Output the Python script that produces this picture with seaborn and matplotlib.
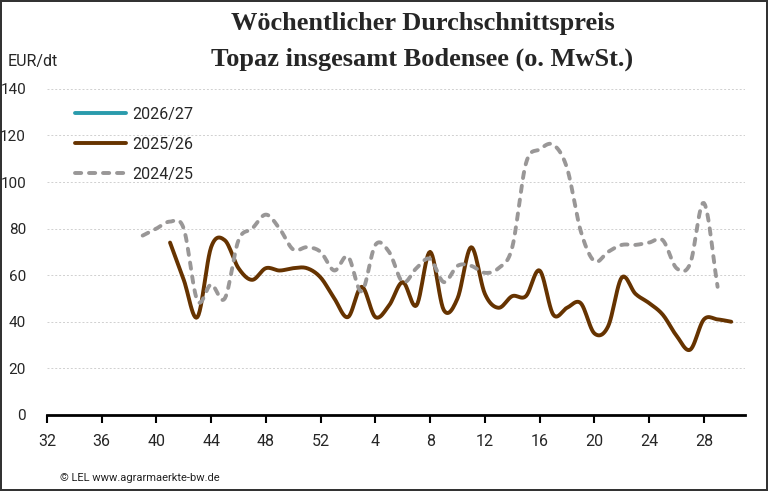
import numpy as np
import pandas as pd
import seaborn as sns
from matplotlib import pyplot as plt

# Kalenderwochen: 32..52 und danach 1..31 (laufender Index 32..83)
tick_pos = [32, 36, 40, 44, 48, 52, 56, 60, 64, 68, 72, 76, 80]
tick_labels = ["32", "36", "40", "44", "48", "52", "4", "8", "12", "16", "20", "24", "28"]

# 2024/25 ab KW 39 bis KW 29
weeks_2425 = list(range(39, 82))
price_2425 = [77, 80, 83, 80, 49, 56, 50, 75, 80, 86, 80, 71, 72, 70,
              62, 68, 53, 73, 70, 57, 63, 67, 57, 64, 64, 61, 63, 72,
              108, 114, 116, 106, 79, 66, 70, 73, 73, 74, 75, 63, 65, 91, 55]

# 2025/26 ab KW 41 bis KW 30
weeks_2526 = list(range(41, 83))
price_2526 = [74, 58, 42, 72, 75, 63, 58, 63, 62, 63, 63, 59,
              50, 42, 55, 42, 47, 57, 47, 70, 45, 50, 72, 52, 46, 51, 51,
              62, 43, 46, 48, 35, 38, 59, 52, 48, 43, 34, 28, 41, 41, 40]

# 2026/27 noch ohne Werte
weeks_2627 = []
price_2627 = []


def smooth(x, y, n=12):
    # Catmull-Rom Glaettung wie bei Excel "geglaettete Linie"
    x = np.asarray(x, float)
    y = np.asarray(y, float)
    if len(x) < 3:
        return x, y
    px = np.concatenate([[2 * x[0] - x[1]], x, [2 * x[-1] - x[-2]]])
    py = np.concatenate([[2 * y[0] - y[1]], y, [2 * y[-1] - y[-2]]])
    xs, ys = [], []
    t = np.linspace(0, 1, n, endpoint=False)
    for i in range(1, len(px) - 2):
        for p, out in ((px, xs), (py, ys)):
            p0, p1, p2, p3 = p[i - 1], p[i], p[i + 1], p[i + 2]
            out.append(0.5 * ((2 * p1) + (-p0 + p2) * t
                              + (2 * p0 - 5 * p1 + 4 * p2 - p3) * t ** 2
                              + (-p0 + 3 * p1 - 3 * p2 + p3) * t ** 3))
    xs.append([x[-1]])
    ys.append([y[-1]])
    return np.concatenate(xs), np.concatenate(ys)


sns.set_theme(style="white")
plt.rcParams['font.family'] = ['Roboto', 'DejaVu Sans']

fig = plt.figure(figsize=(7.68, 4.91), dpi=100)
fig.patch.set_edgecolor("#333333")
fig.patch.set_linewidth(1.5)
ax = fig.add_axes([0.061, 0.155, 0.909, 0.664])

sx, sy = smooth(weeks_2425, price_2425)
df_2425 = pd.DataFrame({"kw": sx, "preis": sy})
sx, sy = smooth(weeks_2526, price_2526)
df_2526 = pd.DataFrame({"kw": sx, "preis": sy})
df_2627 = pd.DataFrame({"kw": weeks_2627, "preis": price_2627}, dtype=float)

sns.lineplot(data=df_2627, x="kw", y="preis", color="#2a9bac", linewidth=2.8,
             ax=ax, label="2026/27", sort=False)
sns.lineplot(data=df_2526, x="kw", y="preis", color="#663300", linewidth=2.8,
             ax=ax, label="2025/26", sort=False)
sns.lineplot(data=df_2425, x="kw", y="preis", color="#999797", linewidth=2.8,
             ax=ax, label="2024/25", sort=False)
ax.get_lines()[-1].set_dashes([1.6, 2.0])
ax.get_lines()[-1].set_dash_capstyle("round")
for ln in ax.get_lines():
    ln.set_solid_capstyle("round")

ax.set_xlim(32, 83)
ax.set_ylim(0, 140)
ax.set_xticks(tick_pos)
ax.set_xticklabels(tick_labels)
ax.set_yticks(range(0, 141, 20))
ax.set_xlabel("")
ax.set_ylabel("")

ax.grid(axis="y", color="#d0d0d0", linestyle=(0, (2, 2)), linewidth=0.7)
ax.grid(axis="x", visible=False)
for s in ["top", "right", "left"]:
    ax.spines[s].set_visible(False)
ax.spines["bottom"].set_color("black")
ax.spines["bottom"].set_linewidth(2)
ax.spines["bottom"].set_zorder(5)
ax.tick_params(axis="x", bottom=True, length=6, width=1.5, color="black",
               labelsize=11.5, pad=8)
ax.tick_params(axis="y", left=False, labelsize=11, pad=9)

leg = ax.legend(loc="upper left", bbox_to_anchor=(0.02, 0.99), frameon=False,
                fontsize=11.5, handlelength=3.2, labelspacing=0.95,
                handletextpad=0.4)

fig.text(0.01, 0.875, "EUR/dt", fontsize=11.5, ha="left", va="center")
fig.text(0.55, 0.975, "Wöchentlicher Durchschnittspreis\nTopaz insgesamt Bodensee (o. MwSt.)",
         family=["Liberation Serif", "DejaVu Serif"], fontweight="bold",
         fontsize=19, ha="center", va="top", linespacing=1.7)
fig.text(0.078, 0.027, "© LEL www.agrarmaerkte-bw.de", fontsize=8,
         ha="left", va="center", color="#222222")

fig.savefig("out.png", dpi=100, edgecolor=fig.get_edgecolor())
